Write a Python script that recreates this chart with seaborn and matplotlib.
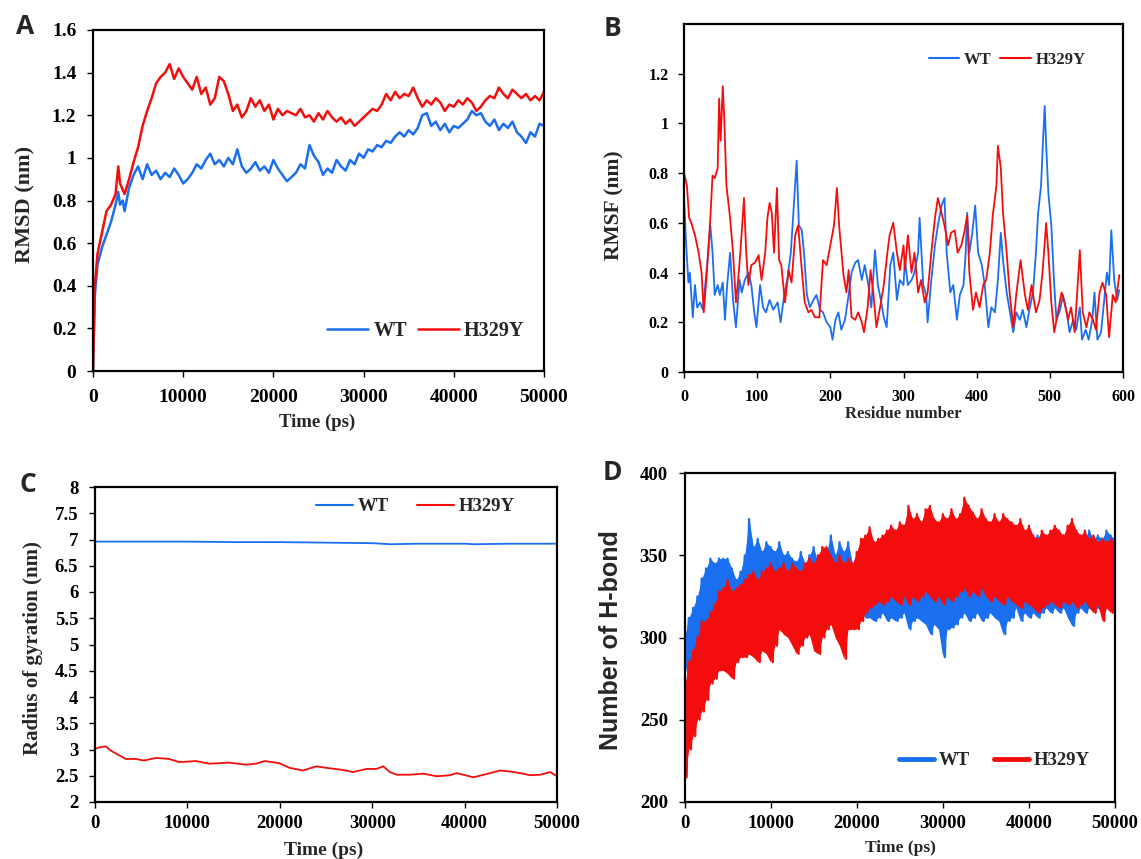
import pandas as pd
import matplotlib.pyplot as plt
from matplotlib.ticker import FuncFormatter
import seaborn as sns

W, H = 1141, 859
BLUE = '#1a6ff0'
RED = '#f50d0d'

# ---- A: RMSD (nm) vs time (ps)
rmsd_time = [0, 200, 500, 1000, 1500, 2000, 2500, 2800, 3000, 3300, 3500, 4000, 4500, 5000] + list(range(5500, 50001, 500))
rmsd_wt = [0.0, 0.35, 0.50, 0.58, 0.64, 0.70, 0.78, 0.84, 0.78, 0.80, 0.75, 0.86, 0.92, 0.96,
           0.90, 0.97, 0.92, 0.94, 0.90, 0.93, 0.91, 0.95, 0.92, 0.88,
           0.90, 0.93, 0.97, 0.95, 0.99, 1.02, 0.97, 0.99, 0.96, 1.00,
           0.97, 1.04, 0.96, 0.93, 0.95, 0.98, 0.94, 0.96, 0.93, 0.99,
           0.95, 0.92, 0.89, 0.91, 0.93, 0.97, 0.95, 1.06, 1.01, 0.98,
           0.92, 0.95, 0.93, 0.99, 0.96, 0.94, 0.99, 0.97, 1.02, 1.00,
           1.04, 1.03, 1.06, 1.05, 1.08, 1.07, 1.10, 1.12, 1.10, 1.13,
           1.11, 1.14, 1.20, 1.21, 1.15, 1.17, 1.13, 1.16, 1.12, 1.15,
           1.14, 1.16, 1.18, 1.22, 1.20, 1.21, 1.17, 1.15, 1.18, 1.13,
           1.16, 1.14, 1.17, 1.12, 1.10, 1.07, 1.12, 1.10, 1.16, 1.15]
rmsd_mut = [0.0, 0.40, 0.55, 0.65, 0.75, 0.78, 0.83, 0.96, 0.88, 0.85, 0.83, 0.90, 0.98, 1.05,
            1.15, 1.22, 1.28, 1.35, 1.38, 1.40, 1.44, 1.37, 1.42, 1.38,
            1.35, 1.32, 1.38, 1.30, 1.33, 1.25, 1.28, 1.38, 1.36, 1.30,
            1.22, 1.25, 1.19, 1.22, 1.28, 1.24, 1.27, 1.22, 1.25, 1.18,
            1.23, 1.20, 1.22, 1.21, 1.20, 1.23, 1.19, 1.20, 1.17, 1.21,
            1.18, 1.22, 1.19, 1.17, 1.19, 1.16, 1.18, 1.15, 1.17, 1.19,
            1.21, 1.23, 1.22, 1.25, 1.30, 1.27, 1.31, 1.28, 1.30, 1.29,
            1.33, 1.28, 1.24, 1.27, 1.25, 1.28, 1.26, 1.22, 1.25, 1.24,
            1.27, 1.25, 1.28, 1.26, 1.22, 1.24, 1.27, 1.29, 1.28, 1.33,
            1.30, 1.28, 1.32, 1.30, 1.28, 1.30, 1.27, 1.29, 1.27, 1.31]

# ---- B: RMSF (nm) vs residue number
rmsf_res_wt = [0, 3, 6, 8, 12, 15, 18, 22, 26, 29, 33, 36, 39, 42, 46, 49, 53, 56, 59, 63,
               67, 71, 76, 79, 83, 88, 92, 96, 99, 104, 108, 112, 117, 122, 128, 132, 137, 141, 146, 149,
               154, 157, 161, 164, 168, 172, 177, 181, 186, 190, 195, 200, 203, 207, 211, 215, 220, 225, 229, 234,
               238, 243, 247, 252, 256, 261, 265, 269, 273, 277, 282, 286, 291, 295, 300,
               302, 306, 311, 315, 320, 322, 327, 331, 333, 338, 343, 347, 352, 356, 359, 364, 368, 373, 377, 382,
               385, 387, 390, 394, 398, 402, 407, 411, 416, 420, 425, 429, 433, 436, 441, 445, 450, 454, 459, 463,
               468, 472, 477, 481, 484, 488, 491, 493, 495, 498, 502, 506, 509, 514, 518, 523, 527, 532, 536, 541,
               544, 549, 553, 558, 561, 565, 570, 574, 578, 581, 584, 588, 592, 595]
rmsf_wt = [0.70, 0.51, 0.36, 0.40, 0.22, 0.35, 0.26, 0.28, 0.25, 0.35, 0.48, 0.59, 0.48, 0.31, 0.35, 0.31, 0.36, 0.21, 0.35, 0.48,
           0.29, 0.18, 0.37, 0.32, 0.37, 0.40, 0.35, 0.24, 0.18, 0.35, 0.26, 0.24, 0.29, 0.25, 0.28, 0.20, 0.31, 0.37, 0.48, 0.62,
           0.85, 0.59, 0.57, 0.48, 0.31, 0.26, 0.29, 0.31, 0.25, 0.24, 0.20, 0.18, 0.13, 0.21, 0.24, 0.17, 0.21, 0.31, 0.40, 0.44,
           0.45, 0.37, 0.43, 0.35, 0.26, 0.49, 0.35, 0.29, 0.22, 0.18, 0.43, 0.48, 0.29, 0.37, 0.35,
           0.45, 0.35, 0.37, 0.40, 0.48, 0.62, 0.35, 0.31, 0.20, 0.37, 0.51, 0.59, 0.67, 0.70, 0.48, 0.32, 0.35, 0.21, 0.31, 0.35,
           0.48, 0.64, 0.48, 0.56, 0.67, 0.48, 0.43, 0.35, 0.18, 0.26, 0.24, 0.37, 0.56, 0.45, 0.32, 0.25, 0.16, 0.24, 0.21, 0.25,
           0.18, 0.25, 0.32, 0.48, 0.64, 0.75, 0.95, 1.07, 0.91, 0.72, 0.59, 0.35, 0.21, 0.25, 0.31, 0.24, 0.16, 0.21, 0.17, 0.26,
           0.13, 0.17, 0.13, 0.21, 0.32, 0.13, 0.16, 0.28, 0.40, 0.35, 0.57, 0.37, 0.29, 0.33]
rmsf_res_mut = [0, 4, 7, 10, 15, 20, 24, 27, 31, 36, 39, 42, 46, 48, 50, 53, 55, 58, 63, 67,
                71, 74, 77, 82, 85, 88, 92, 97, 102, 106, 111, 114, 117, 120, 123, 127, 130, 133, 138, 143,
                147, 152, 156, 161, 165, 170, 174, 179, 185, 190, 195, 200, 205, 209, 212, 218, 222, 225, 229, 234,
                238, 243, 246, 251, 255, 259, 263, 268, 273, 278, 281, 286, 291, 295, 300,
                302, 306, 311, 315, 320, 324, 329, 333, 338, 343, 347, 352, 356, 361, 365, 370, 374, 379, 383, 387,
                390, 395, 399, 404, 409, 413, 418, 422, 427, 429, 433, 436, 441, 445, 450, 454, 460, 466, 470, 475,
                481, 486, 490, 495, 498, 502, 506, 511, 516, 520, 525, 529, 534, 538, 541, 545, 550, 554, 559, 563,
                568, 572, 577, 581, 586, 590, 595]
rmsf_mut = [0.80, 0.75, 0.62, 0.60, 0.55, 0.48, 0.40, 0.24, 0.39, 0.62, 0.79, 0.78, 0.82, 1.10, 0.93, 1.15, 1.02, 0.75, 0.62, 0.48,
            0.28, 0.37, 0.48, 0.70, 0.48, 0.35, 0.43, 0.44, 0.47, 0.37, 0.48, 0.62, 0.68, 0.64, 0.48, 0.74, 0.45, 0.43, 0.28, 0.41,
            0.36, 0.55, 0.59, 0.41, 0.28, 0.24, 0.25, 0.22, 0.22, 0.45, 0.43, 0.51, 0.59, 0.74, 0.59, 0.39, 0.32, 0.41, 0.22, 0.21,
            0.24, 0.20, 0.16, 0.26, 0.41, 0.31, 0.18, 0.26, 0.35, 0.48, 0.55, 0.60, 0.48, 0.41, 0.51,
            0.41, 0.55, 0.40, 0.48, 0.32, 0.37, 0.28, 0.32, 0.48, 0.62, 0.70, 0.64, 0.59, 0.51, 0.56, 0.57, 0.48, 0.51, 0.56, 0.63,
            0.40, 0.25, 0.32, 0.26, 0.35, 0.37, 0.48, 0.63, 0.75, 0.91, 0.82, 0.64, 0.48, 0.32, 0.18, 0.31, 0.45, 0.31, 0.25, 0.35,
            0.24, 0.29, 0.40, 0.60, 0.48, 0.28, 0.16, 0.24, 0.32, 0.28, 0.21, 0.26, 0.16, 0.35, 0.49, 0.24, 0.18, 0.24, 0.21, 0.17,
            0.32, 0.36, 0.31, 0.14, 0.31, 0.28, 0.39]

# ---- C: radius of gyration (nm)
rg_time_wt = [0, 5000, 10000, 15000, 20000, 25000, 30000, 32000, 35000, 40000, 41000, 45000, 50000]
rg_wt = [6.96, 6.96, 6.96, 6.95, 6.95, 6.94, 6.93, 6.91, 6.92, 6.92, 6.91, 6.92, 6.92]
rg_time_mut = [0, 430, 1160, 1700, 2600, 3330, 4410, 5320, 6590, 8030, 9120, 10930, 12370, 14540, 16350,
               17440, 18340, 19970, 21060, 22500, 23950, 25040, 26850, 27930, 29380, 30460, 31190, 31910,
               32630, 34080, 35530, 36980, 38420, 39150, 40960, 42760, 43850, 44940, 46020, 47110, 48190,
               49280, 50000]
rg_mut = [3.01, 3.04, 3.06, 2.98, 2.89, 2.82, 2.82, 2.79, 2.84, 2.82, 2.76, 2.78, 2.73, 2.75, 2.71,
          2.73, 2.78, 2.74, 2.65, 2.60, 2.68, 2.65, 2.61, 2.57, 2.63, 2.63, 2.68, 2.57,
          2.52, 2.52, 2.54, 2.49, 2.51, 2.55, 2.47, 2.55, 2.60, 2.58, 2.55, 2.51, 2.52,
          2.57, 2.49]

# ---- D: number of H-bonds, upper / lower swing every 500 ps
hb_time = list(range(0, 50001, 500))
hb_wt_hi = [300, 312, 318, 325, 336, 342, 348, 345, 348, 348,
            348, 342, 335, 340, 350, 372, 355, 360, 352, 358,
            355, 352, 358, 350, 352, 348, 346, 352, 345, 350,
            355, 345, 348, 352, 362, 350, 358, 352, 358, 345,
            345, 345, 348, 350, 352, 350, 348, 350, 352, 350,
            348, 352, 350, 350, 352, 348, 350, 352, 350, 348,
            350, 352, 348, 352, 350, 355, 345, 352, 350, 355,
            352, 350, 355, 352, 358, 355, 358, 355, 360, 355,
            358, 360, 362, 358, 360, 362, 360, 358, 362, 360,
            358, 365, 362, 360, 365, 360, 362, 360, 365, 362, 360]
hb_wt_lo = [285, 272, 290, 300, 305, 308, 312, 315, 318, 322,
            322, 320, 315, 318, 320, 322, 322, 318, 320, 322,
            320, 318, 320, 320, 318, 320, 318, 322, 318, 320,
            322, 318, 322, 320, 318, 322, 320, 318, 318, 320,
            315, 315, 312, 312, 310, 312, 315, 310, 312, 310,
            312, 315, 305, 310, 312, 310, 308, 302, 308, 305,
            288, 305, 306, 308, 312, 315, 310, 312, 315, 310,
            312, 315, 312, 310, 302, 310, 312, 318, 310, 315,
            312, 315, 312, 315, 318, 315, 318, 315, 318, 312,
            307, 315, 318, 315, 318, 316, 318, 315, 318, 316, 320]
hb_mut_hi = [270, 285, 292, 300, 310, 310, 315, 320, 328, 330,
             335, 328, 330, 332, 335, 338, 340, 335, 340, 342,
             345, 340, 342, 345, 340, 345, 342, 340, 345, 348,
             345, 350, 355, 355, 350, 345, 350, 345, 348, 345,
             352, 360, 362, 367, 358, 360, 362, 365, 368, 365,
             370, 368, 380, 372, 375, 370, 378, 380, 372, 370,
             375, 372, 378, 372, 375, 385, 380, 376, 372, 378,
             372, 370, 375, 370, 375, 372, 370, 368, 372, 365,
             368, 362, 360, 365, 362, 365, 368, 365, 362, 368,
             372, 365, 362, 365, 360, 362, 358, 360, 358, 360, 358]
hb_mut_lo = [215, 232, 240, 250, 255, 262, 272, 275, 280, 280,
             278, 275, 285, 288, 288, 290, 288, 285, 292, 290,
             285, 295, 305, 302, 300, 295, 290, 295, 300, 302,
             292, 290, 300, 305, 308, 300, 295, 287, 305, 305,
             305, 310, 315, 318, 320, 322, 320, 322, 325, 322,
             320, 325, 320, 325, 322, 325, 328, 325, 322, 325,
             320, 325, 322, 325, 328, 330, 325, 328, 325, 330,
             325, 322, 325, 322, 320, 325, 322, 320, 318, 322,
             320, 318, 315, 318, 320, 322, 320, 318, 322, 320,
             322, 318, 320, 322, 318, 315, 320, 310, 318, 315, 322]

labels = ['WT', 'H329Y']


def zigzag(times, hi, lo):
    # alternate upper and lower readings so the trace looks like the dense MD signal
    xs, ys = [], []
    for t, h, l in zip(times, hi, lo):
        xs += [t, t + 250]
        ys += [h, l]
    return pd.DataFrame({'Time': xs, 'Value': ys})


def axes_box(left, top, right, bottom):
    return [left / W, 1 - bottom / H, (right - left) / W, (bottom - top) / H]


sns.set_theme(style='ticks')
plt.rcParams['font.family'] = ['Liberation Serif', 'DejaVu Serif']
plt.rcParams['font.weight'] = 'bold'

fig = plt.figure(figsize=(W / 100, H / 100), dpi=100)
fmt = FuncFormatter(lambda v, p: f'{v:g}')


def style_axes(ax, xlim, ylim, xticks, yticks, tsize, xpad, ypad):
    ax.set_xlim(*xlim)
    ax.set_ylim(*ylim)
    ax.set_xticks(xticks)
    ax.set_yticks(yticks)
    ax.xaxis.set_major_formatter(fmt)
    ax.yaxis.set_major_formatter(fmt)
    ax.set_xlabel('')
    ax.set_ylabel('')
    for s in ax.spines.values():
        s.set_visible(True)
        s.set_color('black')
        s.set_linewidth(1.6)
    ax.tick_params(axis='both', direction='out', length=4, width=1, colors='black', labelsize=tsize)
    ax.tick_params(axis='x', pad=xpad)
    ax.tick_params(axis='y', pad=ypad)
    for lab in ax.get_xticklabels() + ax.get_yticklabels():
        lab.set_fontweight('bold')


def add_legend(ax, anchor, size, hlen, cspace, lw):
    leg = ax.legend(labels=labels, handles=ax.get_lines()[:2], loc='center right', bbox_to_anchor=anchor,
                    ncol=2, frameon=False, handlelength=hlen, handletextpad=0.25, columnspacing=cspace,
                    prop={'family': 'Liberation Serif', 'weight': 'bold', 'size': size}, borderaxespad=0)
    for line in leg.get_lines():
        line.set_linewidth(lw)


def txt(x, y, s, size, rot=0, family='Liberation Serif'):
    fig.text(x / W, 1 - y / H, s, fontsize=size, rotation=rot, ha='center', va='center',
             fontweight='bold', family=family)


# Panel A
axA = fig.add_axes(axes_box(93, 30, 544, 371))
sns.lineplot(x=rmsd_time, y=rmsd_wt, color=BLUE, lw=1.8, ax=axA, estimator=None, sort=False)
sns.lineplot(x=rmsd_time, y=rmsd_mut, color=RED, lw=1.8, ax=axA, estimator=None, sort=False)
style_axes(axA, (0, 50000), (0, 1.6), range(0, 50001, 10000), [i * 0.2 for i in range(9)], 14, 9, 8)
add_legend(axA, (0.975, 0.117), 14.5, 2.05, 0.55, 1.8)

# Panel B
axB = fig.add_axes(axes_box(684, 24, 1123, 372))
sns.lineplot(x=rmsf_res_wt, y=rmsf_wt, color=BLUE, lw=1.3, ax=axB, estimator=None, sort=False)
sns.lineplot(x=rmsf_res_mut, y=rmsf_mut, color=RED, lw=1.3, ax=axB, estimator=None, sort=False)
style_axes(axB, (0, 600), (0, 1.4), range(0, 601, 100), [i * 0.2 for i in range(7)], 11.5, 8, 7)
add_legend(axB, (0.93, 0.897), 12, 1.85, 0.55, 1.5)

# Panel C
axC = fig.add_axes(axes_box(95, 487, 557, 802))
sns.lineplot(x=rg_time_wt, y=rg_wt, color=BLUE, lw=1.3, ax=axC, estimator=None, sort=False)
sns.lineplot(x=rg_time_mut, y=rg_mut, color=RED, lw=1.3, ax=axC, estimator=None, sort=False)
style_axes(axC, (0, 50000), (2, 8), range(0, 50001, 10000), [2 + i * 0.5 for i in range(13)], 13.5, 5, 8)
add_legend(axC, (0.925, 0.937), 13.5, 2.0, 1.45, 1.5)

# Panel D: dense trace = filled swing range + zigzag edges
axD = fig.add_axes(axes_box(684.5, 473, 1115, 802))
zz_wt = zigzag(hb_time, hb_wt_hi, hb_wt_lo)
zz_mut = zigzag(hb_time, hb_mut_hi, hb_mut_lo)
sns.lineplot(data=zz_wt, x='Time', y='Value', color=BLUE, lw=1.6, ax=axD, estimator=None, sort=False)
sns.lineplot(data=zz_mut, x='Time', y='Value', color=RED, lw=1.6, ax=axD, estimator=None, sort=False)
axD.fill_between(hb_time, hb_wt_lo, hb_wt_hi, color=BLUE, lw=0, zorder=1.9)
axD.fill_between(hb_time, hb_mut_lo, hb_mut_hi, color=RED, lw=0, zorder=2.1)
axD.get_lines()[1].set_zorder(2.2)
style_axes(axD, (0, 50000), (200, 400), range(0, 50001, 10000), range(200, 401, 50), 13.5, 5, 8)
add_legend(axD, (0.958, 0.125), 13.5, 1.85, 1.3, 3.5)

# axis titles and panel letters
txt(25, 204, 'RMSD (nm)', 16, 90)
txt(317, 422, 'Time (ps)', 13.5)
txt(614, 205, 'RMSF (nm)', 15.5, 90)
txt(903, 414, 'Residue number', 12)
txt(33, 648, 'Radius of gyration (nm)', 15, 90)
txt(324, 850, 'Time (ps)', 14)
txt(611, 640, 'Number of H-bond', 18, 90, 'Liberation Sans')
txt(900, 848, 'Time (ps)', 12.5)

for letter, x, y in [('A', 25, 27), ('B', 613, 28), ('C', 28, 485), ('D', 612, 472)]:
    txt(x, y, letter, 19, 0, 'Open Sans')

fig.savefig('out.png', dpi=100)
